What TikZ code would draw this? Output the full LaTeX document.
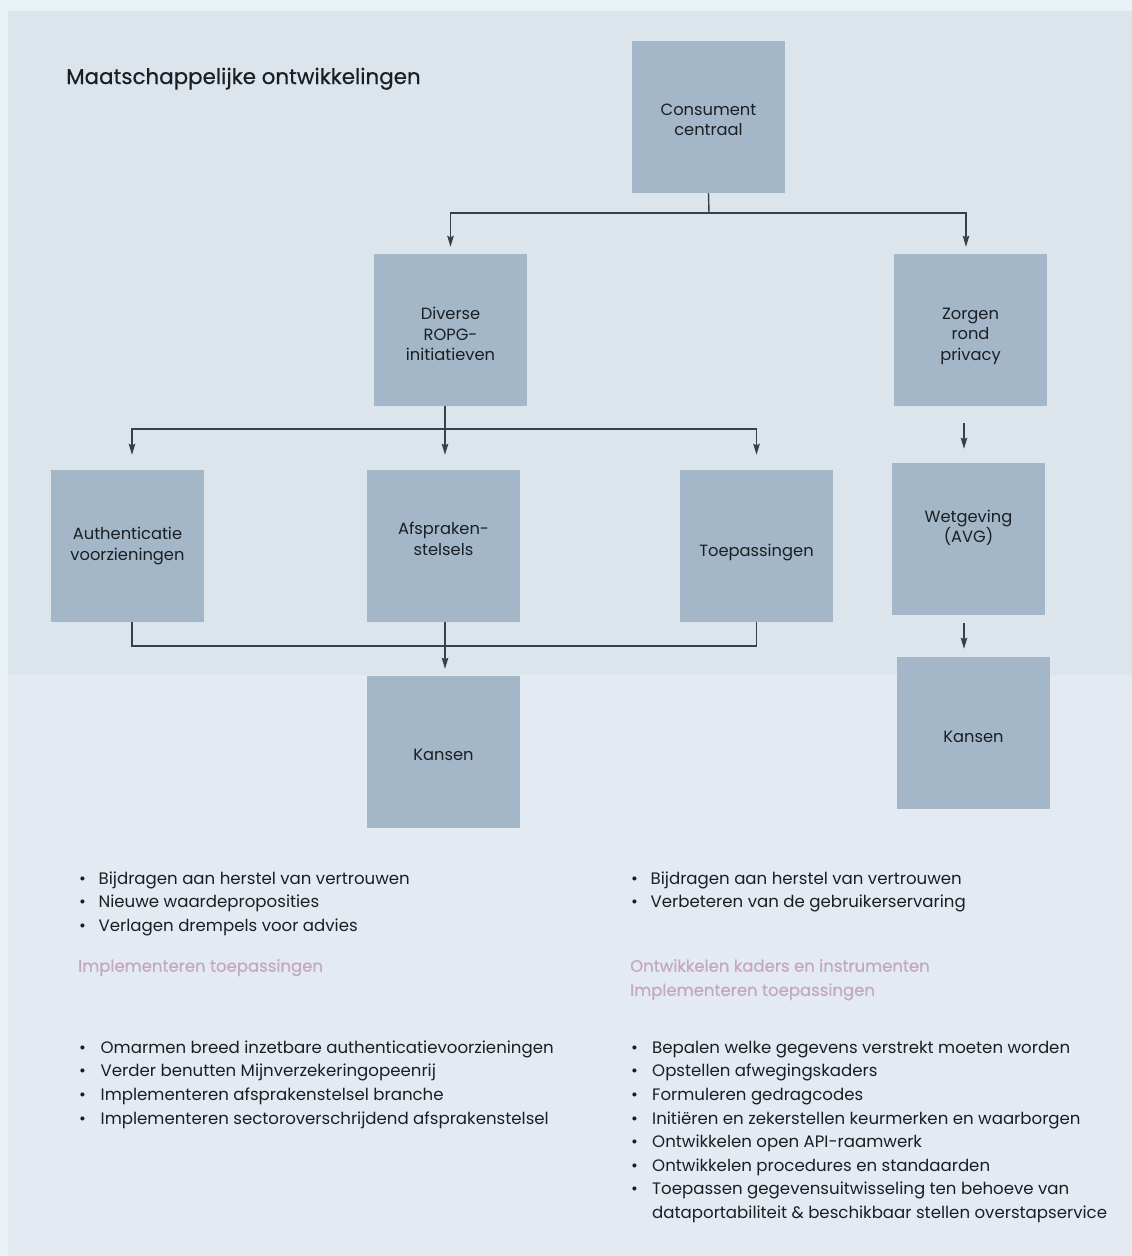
\documentclass[tikz,border=0pt]{standalone}
\usepackage{fontspec}
\setmainfont{Poppins}
\newfontfamily\titlefont[FakeBold=0.5]{Poppins}
\usetikzlibrary{arrows.meta}
\definecolor{outerbg}{HTML}{E8F1F5}
\definecolor{topbg}{HTML}{DCE4EC}
\definecolor{botbg}{HTML}{E3EAF2}
\definecolor{boxc}{HTML}{A3B7C8}
\definecolor{linec}{HTML}{3A4047}
\definecolor{txt}{HTML}{1A1F24}
\definecolor{pink}{HTML}{C4A8BF}
\tikzset{
  box/.style={fill=boxc, minimum width=153pt, minimum height=152pt, inner sep=0pt},
  boxtext/.style={align=center, inner sep=0pt, text=txt, font=\fontsize{16.3}{20.5}\selectfont},
  conn/.style={draw=linec, line width=1.4pt},
  arr/.style={conn, -{Stealth[length=11pt,width=6.5pt,inset=1.5pt]}},
  listtext/.style={anchor=base west, inner sep=0pt, text=txt, font=\fontsize{16.6}{23.6}\selectfont},
  pinktext/.style={anchor=base west, inner sep=0pt, text=pink, font=\titlefont\fontsize{16.5}{24.2}\selectfont},
}
\newcommand{\bul}{\makebox[19.5pt][l]{\textbullet}}
\begin{document}
\begin{tikzpicture}[x=1pt,y=-1pt]
\useasboundingbox (0,0) rectangle (1132,1256);
\fill[outerbg] (0,0) rectangle (1132,1256);
\fill[topbg] (8,11) rectangle (1132,675);
\fill[botbg] (8,675) rectangle (1132,1256);

\node[anchor=base west, inner sep=0pt, text=txt, font=\titlefont\fontsize{21.4}{24}\selectfont] (title) at (66,84) {Maatschappelijke ontwikkelingen};

% boxes
\node[box] (cc) at (708.5,117) {};
\node[box] (div) at (450.5,330) {};
\node[box] (zor) at (970.5,330) {};
\node[box] (auth) at (127.5,546) {};
\node[box] (afs) at (443.5,546) {};
\node[box] (toep) at (756.5,546) {};
\node[box] (wet) at (968.5,539) {};
\node[box] (kl) at (443.5,752) {};
\node[box] (kr) at (973.5,733) {};

\node[boxtext] (cc-t) at ([yshift=-3]cc.center) {Consument\\centraal};
\node[boxtext] (div-t) at ([yshift=-4]div.center) {Diverse\\ROPG-\\initiatieven};
\node[boxtext] (zor-t) at ([yshift=-6]zor.center) {Zorgen\\rond\\privacy};
\node[boxtext] (auth-t) at (auth.center) {Authenticatie\\voorzieningen};
\node[boxtext] (afs-t) at ([yshift=7]afs.center) {Afspraken-\\stelsels};
\node[boxtext] (toep-t) at ([yshift=-6]toep.center) {Toepassingen};
\node[boxtext] (wet-t) at ([yshift=11]wet.center) {Wetgeving\\(AVG)};
\node[boxtext] (kl-t) at ([yshift=-3]kl.center) {Kansen};
\node[boxtext] (kr-t) at ([yshift=-4]kr.center) {Kansen};

% connectors
\coordinate (j1) at (709,213);
\coordinate (j2) at (445,429);
\coordinate (j3) at (445,646);
\draw[conn] (cc.south) -- (j1);
\draw[arr, shorten >=7pt] (j1) -| (div.north);
\draw[arr, shorten >=7pt] (j1) -| ([xshift=-4.5]zor.north);
\draw[conn] ([xshift=-5.5]div.south) -- (j2);
\draw[arr, shorten >=15pt] (j2) -| ([xshift=4.5]auth.north);
\draw[arr, shorten >=15pt] (j2) -- (j2 |- afs.north);
\draw[arr, shorten >=15pt] (j2) -| (toep.north);
\draw[arr, shorten <=17pt, shorten >=14pt] ([xshift=-6.5]zor.south) -- ([xshift=-4.5]wet.north);
\draw[arr, shorten <=8pt, shorten >=8pt] ([xshift=-4.5]wet.south) -- ([xshift=-9.5]kr.north);
\draw[conn] ([xshift=4.5]auth.south) |- (j3) -| (toep.south);
\draw[arr, shorten >=7pt] ([xshift=1.5]afs.south) -- (j3 |- kl.north);

% lists
\node[listtext] (l1) at (79,884.3) {\begin{tabular}[t]{@{}l@{}l@{}}
\bul & Bijdragen aan herstel van vertrouwen\\
\bul & Nieuwe waardeproposities\\
\bul & Verlagen drempels voor advies
\end{tabular}};
\node[pinktext] (p1) at (78,971.7) {Implementeren toepassingen};
\node[listtext] (l2) at (79,1053.3) {\begin{tabular}[t]{@{}l@{\hspace{2pt}}l@{}}
\bul & Omarmen breed inzetbare authenticatievoorzieningen\\
\bul & Verder benutten Mijnverzekeringopeenrij\\
\bul & Implementeren afsprakenstelsel branche\\
\bul & Implementeren sectoroverschrijdend afsprakenstelsel
\end{tabular}};
\node[listtext] (r1) at (631,884.3) {\begin{tabular}[t]{@{}l@{}l@{}}
\bul & Bijdragen aan herstel van vertrouwen\\
\bul & Verbeteren van de gebruikerservaring
\end{tabular}};
\node[pinktext] (p2) at (630,971.7) {\begin{tabular}[t]{@{}l@{}}
Ontwikkelen kaders en instrumenten\\
Implementeren toepassingen
\end{tabular}};
\node[listtext] (r2) at (631,1053.3) {\begin{tabular}[t]{@{}l@{\hspace{1.5pt}}l@{}}
\bul & Bepalen welke gegevens verstrekt moeten worden\\
\bul & Opstellen afwegingskaders\\
\bul & Formuleren gedragcodes\\
\bul & Initiëren en zekerstellen keurmerken en waarborgen\\
\bul & Ontwikkelen open API-raamwerk\\
\bul & Ontwikkelen procedures en standaarden\\
\bul & Toepassen gegevensuitwisseling ten behoeve van\\
 & dataportabiliteit \& beschikbaar stellen overstapservice
\end{tabular}};
\end{tikzpicture}
\end{document}
